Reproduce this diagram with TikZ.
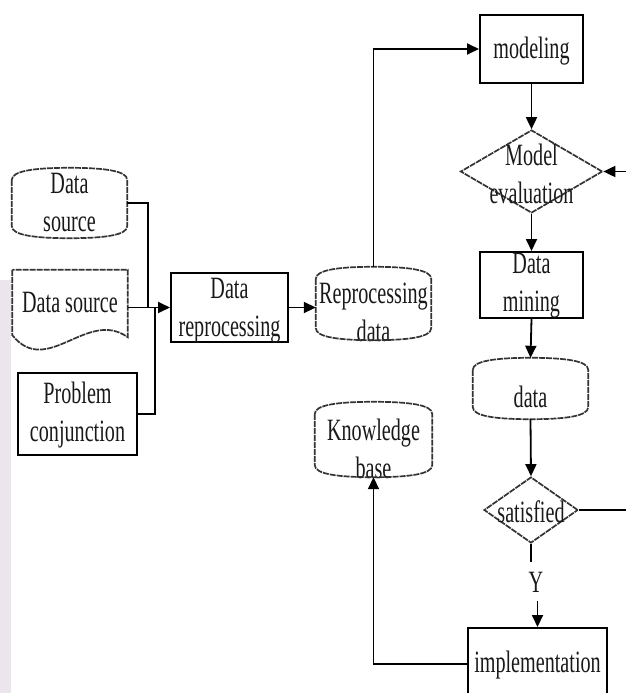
\documentclass[tikz,border=0pt]{standalone}
\usepackage{fontspec}
\setmainfont{Liberation Serif}[FakeStretch=0.65]
\usetikzlibrary{shapes.geometric,arrows.meta,calc}
\newcommand\lblfont{\fontsize{31}{38}\selectfont}
\tikzset{
  every label/.style={font=\lblfont, align=center, inner sep=0pt, text=black!90},
  boxnode/.style={draw=black, line width=2pt, rectangle, inner sep=0pt},
  holder/.style={draw=none, rectangle, inner sep=0pt},
  outl/.style={draw=black!80, line width=1.7pt, dash pattern=on 6pt off 1pt},
  decide/.style={outl, diamond, inner sep=0pt},
  conn/.style={draw=black, line width=1.8pt},
  arr/.style={conn, -{Triangle[length=12pt,width=11pt]}},
}
\newcommand\storeline[1]{%
  \draw[outl] let \p1=(#1.north west), \p2=(#1.south east) in
   ({\x1},{\y1-12pt}) -- ({\x1},{\y2+12pt})
   .. controls ({\x1},{\y2+3pt}) and ({\x1+0.2*(\x2-\x1)},{\y2}) .. ({0.5*(\x1+\x2)},{\y2})
   .. controls ({\x2-0.2*(\x2-\x1)},{\y2}) and ({\x2},{\y2+3pt}) .. ({\x2},{\y2+12pt})
   -- ({\x2},{\y1-12pt})
   .. controls ({\x2},{\y1-3pt}) and ({\x2-0.2*(\x2-\x1)},{\y1}) .. ({0.5*(\x1+\x2)},{\y1})
   .. controls ({\x1+0.2*(\x2-\x1)},{\y1}) and ({\x1},{\y1-3pt}) .. cycle;}
\begin{document}
\begin{tikzpicture}[x=1pt,y=-1pt]
\useasboundingbox (0,0) rectangle (626,693);
\fill[fill={rgb,255:red,236;green,229;blue,238}] (0,280) rectangle (11,693);

% left column
\node[holder, minimum width=115pt, minimum height=70pt,
      label={[yshift=1pt]center:Data\\source}] (ds1) at (69.5,203) {};
\storeline{ds1}
\node[holder, minimum width=115pt, minimum height=78pt,
      label={[yshift=7pt]center:Data source}] (ds2) at (70,309) {};
\draw[outl] let \p1=(ds2.north west), \p2=(ds2.south east) in
   ({\x1},{\y1}) -- ({\x1},{\y2+13pt})
   .. controls ({\x1+0.3*(\x2-\x1)},{\y2-30pt}) and ({\x1+0.65*(\x2-\x1)},{\y2+40pt}) .. ({\x2},{\y2+11pt})
   -- ({\x2},{\y1}) -- cycle;
\node[boxnode, minimum width=119pt, minimum height=82pt,
      label={[yshift=-1pt]center:Problem\\conjunction}] (pc) at (77.5,414) {};

\node[boxnode, minimum width=117pt, minimum height=69pt,
      label={[yshift=-3pt]center:Data\\reprocessing}] (dr) at (229.5,307.5) {};
\node[holder, minimum width=115pt, minimum height=73pt,
      label={[yshift=-9pt]center:Reprocessing\\data}] (rd) at (373.5,303.5) {};
\storeline{rd}
\node[holder, minimum width=117pt, minimum height=75pt,
      label={[yshift=-9pt]center:Knowledge\\base}] (kb) at (373.5,439.5) {};
\storeline{kb}

% right column
\node[boxnode, minimum width=103pt, minimum height=68pt,
      label={[yshift=-2pt]center:modeling}] (mod) at (531.5,49) {};
\node[decide, minimum width=142pt, minimum height=83pt,
      label={[yshift=-2pt]center:Model\\evaluation}] (me) at (531.5,171.5) {};
\node[boxnode, minimum width=103pt, minimum height=66pt,
      label={[yshift=-1pt]center:Data\\mining}] (dm) at (531.5,285) {};
\node[holder, minimum width=115pt, minimum height=61pt,
      label={[yshift=-8pt]center:data}] (dat) at (530.5,388.5) {};
\storeline{dat}
\node[decide, minimum width=94pt, minimum height=66pt,
      label={[yshift=-2pt]center:satisfied}] (sat) at (531,510) {};
\node[boxnode, minimum width=139pt, minimum height=72pt,
      label={[yshift=-1pt]center:implementation}] (imp) at (537.5,664) {};
\node[font=\lblfont, inner sep=0pt, text=black!90] (y) at (536,582) {Y};

% junction coordinates
\coordinate (j1) at (148,307.5);
\coordinate (j2) at (155,307.5);
\coordinate (loop) at (660,510);

% connectors
\draw[conn] (ds1.east) -| (j1);
\draw[conn] (pc.east) -| (j2);
\draw[arr] (dr.west -| ds2.east) -- (dr.west);
\draw[arr] (dr.east) -- (dr.east -| rd.west);
\draw[arr] (rd.north) |- (mod.west);
\draw[arr] (mod.south) -- (me.north);
\draw[arr] (me.south) -- (dm.north);
\draw[arr] (dm.south) -- (dat.north);
\draw[arr] (dat.south) -- (sat.north);
\draw[conn] (sat.south) -- ([yshift=10pt]sat.south |- y.north);
\draw[arr] ([yshift=-9pt]imp.north |- y.south) -- (imp.north);
\draw[arr] (sat.east) -- (loop) |- (me.east);
\draw[arr] (imp.west) -| (kb.south);
\end{tikzpicture}
\end{document}
